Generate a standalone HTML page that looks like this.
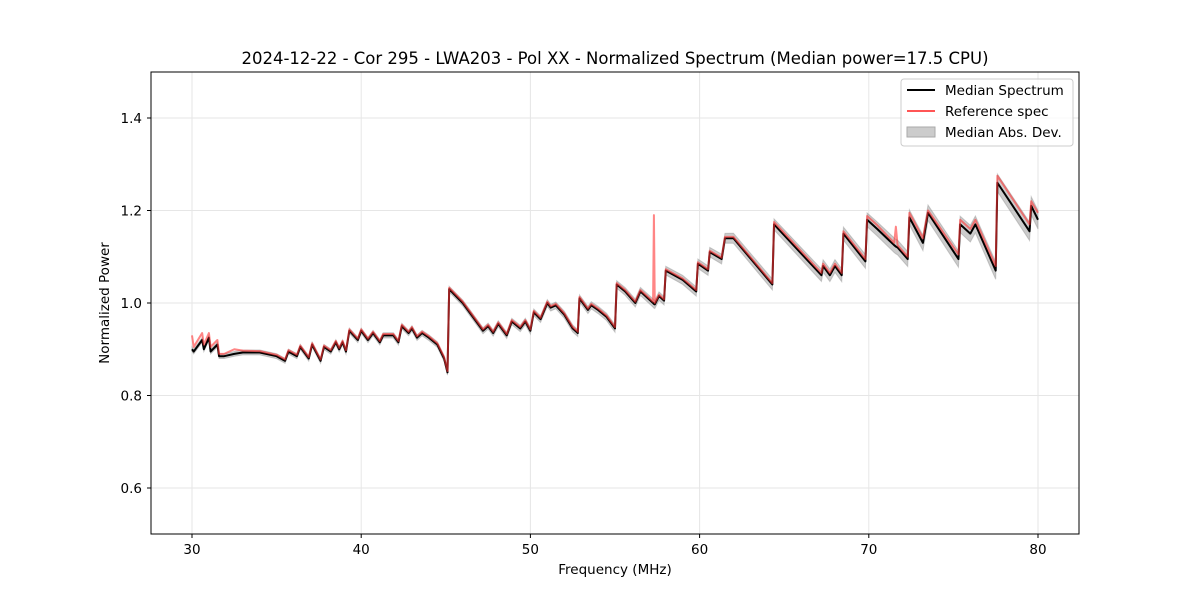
<!DOCTYPE html>
<html><head><meta charset="utf-8"><style>
body{margin:0;background:#fff;font-family:"DejaVu Sans","Liberation Sans",sans-serif}
</style></head><body>
<svg id="chart" width="1200" height="600" xmlns="http://www.w3.org/2000/svg" font-family="DejaVu Sans, Liberation Sans, sans-serif">
<rect width="1200" height="600" fill="#fff"/>
<text x="615" y="64" text-anchor="middle" font-size="16.5">2024-12-22 - Cor 295 - LWA203 - Pol XX - Normalized Spectrum (Median power=17.5 CPU)</text>
<g id="grid"></g>
<g id="marks"></g>
<rect x="151" y="72" width="928" height="462" fill="none" stroke="#000" stroke-width="1"/>
<g id="ticks"></g>
<text x="615" y="574" text-anchor="middle" font-size="13.5">Frequency (MHz)</text>
<text transform="translate(109,303) rotate(-90)" text-anchor="middle" font-size="13.5">Normalized Power</text>
<g>
<rect x="901" y="79" width="172" height="67" rx="3" fill="#fff" fill-opacity="0.8" stroke="#ccc"/>
<line x1="907" y1="90" x2="935" y2="90" stroke="#000" stroke-width="2"/>
<text x="945" y="95" font-size="13.5">Median Spectrum</text>
<line x1="907" y1="111" x2="935" y2="111" stroke="#ff5555" stroke-width="2"/>
<text x="945" y="116" font-size="13.5">Reference spec</text>
<rect x="907" y="127" width="28" height="10" fill="#ccc" stroke="#aaa"/>
<text x="945" y="137" font-size="13.5">Median Abs. Dev.</text>
</g>
</svg>
<script>
const freq=[30,30.1,30.6,30.7,31.0,31.1,31.5,31.6,31.9,32.5,33,34,35,35.5,35.7,36.2,36.4,36.9,37.1,37.6,37.8,38.2,38.5,38.7,38.9,39.1,39.3,39.8,40.0,40.4,40.7,41.1,41.3,41.9,42.2,42.4,42.8,43.0,43.3,43.6,44.0,44.5,44.9,45.1,45.2,46,46.8,47.2,47.5,47.8,48.1,48.6,48.9,49.4,49.7,50,50.2,50.6,51,51.2,51.5,52.0,52.5,52.8,52.9,53.4,53.6,54.0,54.5,55,55.1,55.6,56.2,56.5,57.25,57.3,57.35,57.6,57.9,58.0,59.0,59.8,59.9,60.5,60.6,61.3,61.5,62,64.3,64.4,67.2,67.3,67.7,68.0,68.4,68.5,69.8,69.9,70.5,71.5,71.6,71.7,72.3,72.4,73.2,73.5,75.3,75.4,76.0,76.3,77.5,77.6,79.5,79.6,80];
const median=[0.90,0.895,0.92,0.90,0.925,0.895,0.91,0.885,0.885,0.89,0.893,0.893,0.885,0.875,0.895,0.885,0.905,0.88,0.91,0.875,0.905,0.895,0.915,0.90,0.915,0.895,0.94,0.92,0.94,0.92,0.935,0.915,0.93,0.93,0.915,0.95,0.935,0.945,0.925,0.935,0.925,0.91,0.88,0.85,1.03,1.0,0.96,0.94,0.95,0.935,0.955,0.93,0.96,0.945,0.96,0.94,0.98,0.965,1.0,0.99,0.995,0.975,0.945,0.935,1.01,0.985,0.995,0.985,0.97,0.945,1.04,1.025,1.0,1.025,1.0,0.998,0.997,1.015,1.005,1.07,1.05,1.025,1.085,1.07,1.11,1.095,1.14,1.14,1.04,1.17,1.06,1.08,1.06,1.08,1.06,1.15,1.09,1.18,1.16,1.125,1.122,1.12,1.095,1.185,1.13,1.195,1.095,1.17,1.15,1.17,1.07,1.26,1.155,1.21,1.18];
const reference=[0.93,0.905,0.935,0.91,0.935,0.905,0.92,0.89,0.89,0.90,0.897,0.896,0.888,0.878,0.898,0.888,0.908,0.883,0.913,0.878,0.908,0.898,0.918,0.903,0.918,0.898,0.943,0.923,0.943,0.923,0.938,0.918,0.933,0.933,0.918,0.953,0.938,0.948,0.928,0.938,0.928,0.913,0.883,0.853,1.033,1.003,0.963,0.943,0.953,0.938,0.958,0.933,0.963,0.948,0.963,0.943,0.983,0.968,1.003,0.993,0.998,0.978,0.948,0.938,1.013,0.988,0.998,0.988,0.973,0.948,1.043,1.028,1.003,1.028,1.003,1.19,1.0,1.018,1.008,1.073,1.053,1.028,1.088,1.073,1.113,1.098,1.143,1.143,1.043,1.175,1.065,1.085,1.065,1.085,1.065,1.155,1.095,1.188,1.168,1.13,1.165,1.125,1.1,1.195,1.14,1.2,1.105,1.18,1.16,1.18,1.08,1.275,1.17,1.22,1.195];
const madFreq=[30,45,55,65,72,80];
const madVal=[0.005,0.006,0.008,0.012,0.016,0.02];
const xTicks=[30,40,50,60,70,80];
const yTicks=[0.6,0.8,1.0,1.2,1.4];

const NS='http://www.w3.org/2000/svg';
const X=f=>192+(f-30)*16.92;
const Y=v=>534.25-(v-0.5)*462.5;
function mk(tag,attrs,parent){const e=document.createElementNS(NS,tag);for(const k in attrs)e.setAttribute(k,attrs[k]);parent.appendChild(e);return e;}
function mad(f){for(let i=1;i<madFreq.length;i++){if(f<=madFreq[i]){const t=(f-madFreq[i-1])/(madFreq[i]-madFreq[i-1]);return madVal[i-1]+t*(madVal[i]-madVal[i-1]);}}return madVal[madVal.length-1];}
const grid=document.getElementById('grid'),marks=document.getElementById('marks'),ticks=document.getElementById('ticks');
xTicks.forEach(t=>{
 const g=mk('line',{x1:X(t),x2:X(t),y1:72,y2:534,stroke:'#e6e6e6','stroke-width':1},grid);
 
 
 const tk=mk('line',{x1:X(t),x2:X(t),y1:534,y2:538,stroke:'#000'},ticks);
 
 
 const tx=mk('text',{x:X(t),y:554,'text-anchor':'middle','font-size':13.5},ticks);
 tx.textContent=t;
 
 
});
yTicks.forEach(t=>{
 const g=mk('line',{x1:151,x2:1079,y1:Y(t),y2:Y(t),stroke:'#e6e6e6','stroke-width':1},grid);
 
 
 const tk=mk('line',{x1:147,x2:151,y1:Y(t),y2:Y(t),stroke:'#000'},ticks);
 
 
 const tx=mk('text',{x:142,y:Y(t)+5,'text-anchor':'end','font-size':13.5},ticks);
 tx.textContent=t.toFixed(1);
 
 
});
let up=freq.map((f,i)=>X(f)+','+Y(median[i]+mad(f)));
let dn=freq.map((f,i)=>X(f)+','+Y(median[i]-mad(f))).reverse();
const band=mk('polygon',{points:up.concat(dn).join(' '),fill:'#999','fill-opacity':0.5,stroke:'#999','stroke-opacity':0.5},marks);


const ml=mk('polyline',{points:freq.map((f,i)=>X(f)+','+Y(median[i])).join(' '),fill:'none',stroke:'#000','stroke-width':2,'stroke-linejoin':'round'},marks);


const rl=mk('polyline',{points:freq.map((f,i)=>X(f)+','+Y(reference[i])).join(' '),fill:'none',stroke:'#ff3333','stroke-opacity':0.6,'stroke-width':2,'stroke-linejoin':'round'},marks);


</script>
</body></html>
